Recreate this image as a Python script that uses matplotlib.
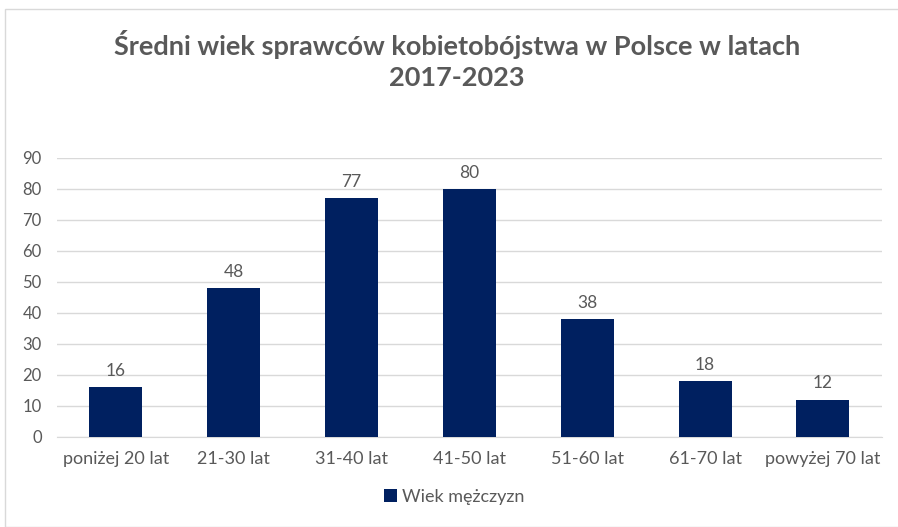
import matplotlib.pyplot as plt
from matplotlib.patches import Rectangle

# Dane
kategorie = ['poniżej 20 lat', '21-30 lat', '31-40 lat', '41-50 lat',
             '51-60 lat', '61-70 lat', 'powyżej 70 lat']
wiek_mezczyzn = [16, 48, 77, 80, 38, 18, 12]
yticks = list(range(0, 100, 10))

plt.rcParams['font.family'] = ['Lato', 'DejaVu Sans']

kolor_tekstu = '#595959'
kolor_slupka = '#002060'

fig = plt.figure(figsize=(8.98, 5.27), dpi=100)
ax = fig.add_axes([0.0635, 0.1708, 0.9185, 0.5294])

# ramka wykresu
fig.patches.append(Rectangle((5 / 898, 0), 1.2, 1 - 9 / 527, transform=fig.transFigure,
                             fill=False, edgecolor='#d9d9d9', linewidth=1))

x = range(len(kategorie))
slupki = ax.bar(x, wiek_mezczyzn, width=0.45, color=kolor_slupka, label='Wiek mężczyzn', zorder=3)
ax.bar_label(slupki, padding=6, fontsize=12.5, color=kolor_tekstu)

ax.set_xlim(-0.5, len(kategorie) - 0.5)
ax.set_ylim(0, 90)
ax.set_yticks(yticks)
ax.set_xticks(list(x))
ax.set_xticklabels(kategorie, fontsize=13, color=kolor_tekstu)
ax.tick_params(axis='y', labelsize=12, labelcolor=kolor_tekstu, length=0, pad=11)
ax.tick_params(axis='x', length=0, pad=10)

ax.grid(axis='y', color='#d9d9d9', linewidth=1, zorder=0)
for s in ['top', 'right', 'left']:
    ax.spines[s].set_visible(False)
ax.spines['bottom'].set_color('#d9d9d9')

fig.text(0.509, 0.886, 'Średni wiek sprawców kobietobójstwa w Polsce w latach\n2017-2023',
         ha='center', va='center', fontsize=19.5, color=kolor_tekstu, fontweight='bold',
         linespacing=1.35)

fig.legend(loc='center', bbox_to_anchor=(0.506, 0.057), frameon=False, fontsize=13,
           labelcolor=kolor_tekstu, handlelength=0.7, handleheight=0.7, handletextpad=0.3)

plt.savefig('out.png', dpi=100)
